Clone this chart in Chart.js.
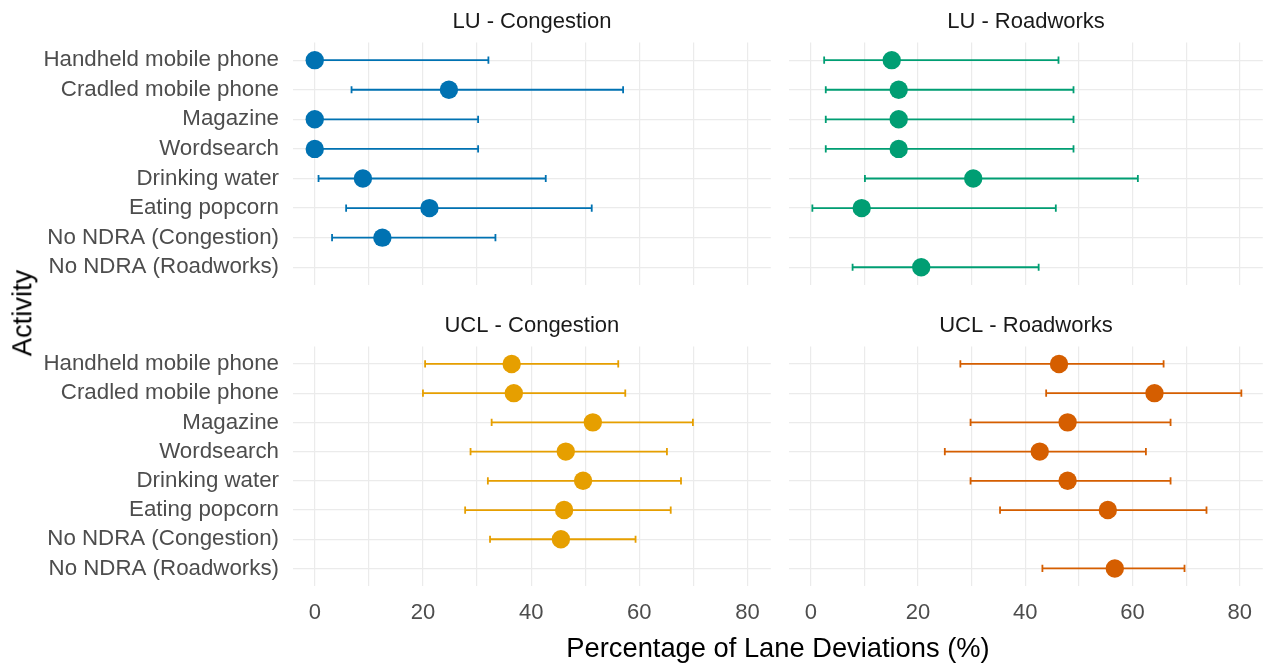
<!DOCTYPE html>
<html>
<head>
<meta charset="utf-8">
<title>Lane deviations by activity</title>
<script src="https://cdn.jsdelivr.net/npm/chart.js@4/dist/chart.umd.min.js"></script>
<style>
  html, body { margin: 0; padding: 0; background: #ffffff; }
  body { width: 1272px; height: 665px; position: relative; overflow: hidden;
         font-family: "Liberation Sans", Arial, sans-serif; }
  canvas { position: absolute; }
  .axis-title { position: absolute; color: #000000; font-size: 27.3px; white-space: nowrap;
                line-height: 1; }
  #xTitle { left: 778px; top: 648px; transform: translate(-50%, -50%); }
  #yTitle { left: 22px; top: 313px; transform: translate(-50%, -50%) rotate(-90deg); }
</style>
</head>
<body>
<canvas id="luCong" width="780" height="300" style="left:0;top:0"></canvas>
<canvas id="luRoad" width="492" height="300" style="left:780px;top:0"></canvas>
<canvas id="uclCong" width="780" height="365" style="left:0;top:300px"></canvas>
<canvas id="uclRoad" width="492" height="365" style="left:780px;top:300px"></canvas>
<div class="axis-title" id="xTitle">Percentage of Lane Deviations (%)</div>
<div class="axis-title" id="yTitle">Activity</div>

<script>
// Activities, listed top to bottom in every panel
const activities = [
  'Handheld mobile phone', 'Cradled mobile phone', 'Magazine', 'Wordsearch',
  'Drinking water', 'Eating popcorn', 'No NDRA (Congestion)', 'No NDRA (Roadworks)'
];

// Percentage axis ticks (labels every 20, light grid every 10)
const xTickValues = [0, 10, 20, 30, 40, 50, 60, 70, 80];
const xTickLabels = ['0', '', '20', '', '40', '', '60', '', '80'];

// LU - Congestion: estimate with lower / upper interval
const luCongEst  = [0.0, 24.8, 0.0, 0.0, 8.9, 21.2, 12.5, null];
const luCongLow  = [0.0, 6.8, 0.0, 0.0, 0.7, 5.8, 3.2, null];
const luCongHigh = [32.1, 57.0, 30.2, 30.2, 42.7, 51.2, 33.4, null];

// LU - Roadworks
const luRoadEst  = [15.1, 16.4, 16.4, 16.4, 30.3, 9.5, null, 20.6];
const luRoadLow  = [2.5, 2.8, 2.8, 2.8, 10.1, 0.3, null, 7.8];
const luRoadHigh = [46.2, 49.0, 49.0, 49.0, 61.0, 45.7, null, 42.5];

// UCL - Congestion
const uclCongEst  = [36.4, 36.8, 51.4, 46.4, 49.6, 46.1, 45.5, null];
const uclCongLow  = [20.4, 20.0, 32.7, 28.8, 32.0, 27.8, 32.4, null];
const uclCongHigh = [56.1, 57.4, 69.9, 65.1, 67.7, 65.8, 59.3, null];

// UCL - Roadworks
const uclRoadEst  = [46.3, 64.1, 47.9, 42.7, 47.9, 55.4, null, 56.7];
const uclRoadLow  = [27.9, 43.9, 29.8, 25.0, 29.8, 35.3, null, 43.2];
const uclRoadHigh = [65.8, 80.3, 67.1, 62.5, 67.1, 73.8, null, 69.7];

const FONT = '"Liberation Sans", Arial, sans-serif';
const GRID = '#EBEBEB';

// Horizontal interval bars with end caps, drawn beneath the points
const errorBars = {
  id: 'errorBars',
  beforeDatasetsDraw(chart) {
    const { ctx, scales: { x, y } } = chart;
    const ds = chart.data.datasets[0];
    ctx.save();
    ctx.strokeStyle = ds.backgroundColor;
    ctx.lineWidth = 1.8;
    ctx.lineCap = 'butt';
    ds.low.forEach((lo, i) => {
      const hi = ds.high[i];
      if (lo == null || hi == null) return;
      const yp = y.getPixelForValue(i);
      const x0 = x.getPixelForValue(lo);
      const x1 = x.getPixelForValue(hi);
      const cap = 3.6;
      ctx.beginPath();
      ctx.moveTo(x0, yp); ctx.lineTo(x1, yp);
      ctx.moveTo(x0, yp - cap); ctx.lineTo(x0, yp + cap);
      ctx.moveTo(x1, yp - cap); ctx.lineTo(x1, yp + cap);
      ctx.stroke();
    });
    ctx.restore();
  }
};

function makePanel(id, title, est, low, high, color, cfg) {
  const points = est
    .map((v, i) => (v == null ? null : { x: v, y: i }))
    .filter(p => p !== null);

  return new Chart(document.getElementById(id), {
    type: 'scatter',
    data: {
      datasets: [{
        data: points,
        low: low,
        high: high,
        backgroundColor: color,
        borderWidth: 0,
        pointRadius: 9.2,
        pointHoverRadius: 9.2
      }]
    },
    plugins: [errorBars],
    options: {
      responsive: false,
      animation: false,
      devicePixelRatio: 1,
      events: [],
      layout: { padding: cfg.padding },
      plugins: {
        legend: { display: false },
        tooltip: { enabled: false },
        title: {
          display: true,
          text: title,
          fullSize: false,
          color: '#1A1A1A',
          font: { family: FONT, size: 22, weight: 'normal', lineHeight: 1.2 },
          padding: cfg.titlePadding
        }
      },
      scales: {
        x: {
          type: 'linear',
          min: -4.02,
          max: 84.3,
          afterBuildTicks: s => { s.ticks = xTickValues.map(v => ({ value: v })); },
          afterFit: s => {
            s.height = cfg.xHeight;
            s.paddingLeft = 0; s.paddingRight = 0;
          },
          border: { display: false },
          grid: { color: GRID, lineWidth: 1.2, drawTicks: false },
          ticks: {
            display: cfg.showX,
            padding: 14,
            maxRotation: 0,
            autoSkip: false,
            color: '#4D4D4D',
            font: { family: FONT, size: 22 },
            callback: (v, i) => xTickLabels[i]
          }
        },
        y: {
          type: 'linear',
          reverse: true,
          min: -0.6,
          max: 7.6,
          afterBuildTicks: s => { s.ticks = activities.map((a, i) => ({ value: i })); },
          afterFit: s => {
            s.width = cfg.yWidth;
            s.paddingTop = 0; s.paddingBottom = 0;
          },
          border: { display: false },
          grid: { color: GRID, lineWidth: 1.2, drawTicks: false },
          ticks: {
            display: cfg.showY,
            padding: 14,
            autoSkip: false,
            color: '#4D4D4D',
            font: { family: FONT, size: 22.3 },
            callback: (v, i) => activities[i]
          }
        }
      }
    }
  });
}

const topTitle = { top: 9, bottom: 7 };
const bottomTitle = { top: 13, bottom: 7 };

makePanel('luCong', 'LU - Congestion', luCongEst, luCongLow, luCongHigh, '#0072B2',
  { padding: { left: 0, right: 8, top: 0, bottom: 0 }, yWidth: 293, xHeight: 15,
    showX: false, showY: true, titlePadding: topTitle });
makePanel('luRoad', 'LU - Roadworks', luRoadEst, luRoadLow, luRoadHigh, '#009E73',
  { padding: { left: 7, right: 5, top: 0, bottom: 0 }, yWidth: 0, xHeight: 15,
    showX: false, showY: false, titlePadding: topTitle });
makePanel('uclCong', 'UCL - Congestion', uclCongEst, uclCongLow, uclCongHigh, '#E69F00',
  { padding: { left: 0, right: 8, top: 0, bottom: 0 }, yWidth: 293, xHeight: 79,
    showX: true, showY: true, titlePadding: bottomTitle });
makePanel('uclRoad', 'UCL - Roadworks', uclRoadEst, uclRoadLow, uclRoadHigh, '#D55E00',
  { padding: { left: 7, right: 5, top: 0, bottom: 0 }, yWidth: 0, xHeight: 79,
    showX: true, showY: false, titlePadding: bottomTitle });
</script>
</body>
</html>
